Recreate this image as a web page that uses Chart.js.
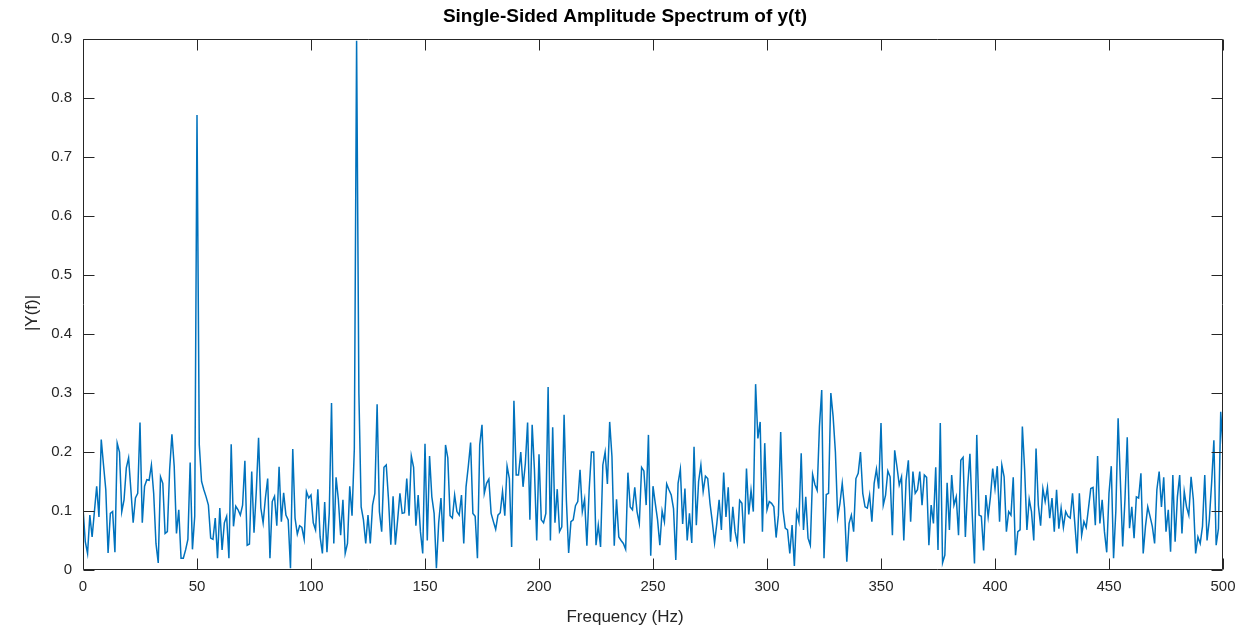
<!DOCTYPE html>
<html><head><meta charset="utf-8">
<script src="https://cdn.jsdelivr.net/npm/chart.js@4/dist/chart.umd.min.js"></script>
<style>html,body{margin:0;padding:0;background:#fff;overflow:hidden}#wrap{width:1250px;height:626px}</style>
</head><body><div id="wrap"><canvas id="c" width="1250" height="626"></canvas></div>
<script>
const chartTitle = 'Single-Sided Amplitude Spectrum of y(t)';
const xAxisLabel = 'Frequency (Hz)';
const yAxisLabel = '|Y(f)|';
const xTicks = [0,50,100,150,200,250,300,350,400,450,500];
const xTickLabels = ['0','50','100','150','200','250','300','350','400','450','500'];
const yTicks = [0,0.1,0.2,0.3,0.4,0.5,0.6,0.7,0.8,0.9];
const yTickLabels = ['0','0.1','0.2','0.3','0.4','0.5','0.6','0.7','0.8','0.9'];
// |Y(f)| at f = 0,1,2,...,500 Hz
const amplitude = [
0.105,0.048,0.028,0.093,0.056,0.099,0.142,0.09,0.221,0.178,
0.136,0.029,0.096,0.099,0.03,0.215,0.2,0.099,0.119,0.173,
0.19,0.136,0.08,0.122,0.13,0.25,0.08,0.142,0.153,0.152,
0.178,0.13,0.045,0.012,0.158,0.147,0.062,0.065,0.17,0.23,
0.176,0.062,0.102,0.02,0.02,0.034,0.052,0.182,0.035,0.091,
0.771,0.212,0.15,0.136,0.124,0.11,0.054,0.052,0.088,0.02,
0.105,0.034,0.08,0.091,0.02,0.213,0.074,0.108,0.102,0.093,
0.11,0.185,0.042,0.044,0.167,0.063,0.133,0.224,0.105,0.08,
0.122,0.155,0.02,0.116,0.125,0.075,0.175,0.082,0.131,0.093,
0.085,0.003,0.205,0.088,0.061,0.075,0.072,0.052,0.133,0.122,
0.127,0.08,0.068,0.137,0.056,0.028,0.115,0.03,0.096,0.283,
0.045,0.157,0.119,0.059,0.119,0.028,0.045,0.142,0.092,0.205,
0.897,0.3,0.107,0.085,0.045,0.093,0.045,0.11,0.13,0.281,
0.099,0.065,0.174,0.178,0.119,0.043,0.125,0.043,0.085,0.13,
0.096,0.097,0.155,0.092,0.193,0.174,0.075,0.127,0.065,0.028,
0.214,0.05,0.193,0.124,0.096,0.003,0.08,0.122,0.048,0.212,
0.19,0.092,0.088,0.127,0.099,0.093,0.127,0.045,0.141,0.176,
0.216,0.096,0.091,0.02,0.212,0.246,0.13,0.147,0.154,0.096,
0.082,0.069,0.093,0.097,0.133,0.092,0.176,0.155,0.039,0.287,
0.161,0.161,0.2,0.141,0.18,0.25,0.085,0.246,0.17,0.05,
0.196,0.085,0.08,0.096,0.31,0.05,0.242,0.08,0.137,0.065,
0.073,0.263,0.119,0.029,0.082,0.085,0.109,0.116,0.17,0.099,
0.12,0.041,0.136,0.2,0.2,0.042,0.076,0.039,0.178,0.2,
0.146,0.251,0.192,0.041,0.12,0.056,0.05,0.045,0.035,0.165,
0.107,0.102,0.14,0.099,0.079,0.174,0.168,0.11,0.229,0.024,
0.142,0.113,0.085,0.042,0.1,0.082,0.146,0.136,0.127,0.104,
0.017,0.147,0.171,0.078,0.138,0.05,0.096,0.046,0.209,0.076,
0.15,0.178,0.133,0.159,0.155,0.113,0.082,0.046,0.079,0.119,
0.068,0.165,0.09,0.14,0.048,0.107,0.065,0.045,0.118,0.113,
0.045,0.172,0.094,0.135,0.099,0.315,0.223,0.251,0.065,0.215,
0.102,0.116,0.113,0.107,0.055,0.093,0.234,0.102,0.071,0.068,
0.028,0.076,0.007,0.098,0.082,0.198,0.068,0.124,0.054,0.042,
0.162,0.145,0.135,0.243,0.305,0.02,0.128,0.13,0.3,0.26,
0.2,0.09,0.113,0.147,0.105,0.014,0.079,0.093,0.065,0.155,
0.164,0.2,0.13,0.107,0.105,0.127,0.082,0.147,0.171,0.138,
0.249,0.11,0.127,0.168,0.158,0.059,0.203,0.175,0.144,0.158,
0.05,0.152,0.186,0.082,0.167,0.13,0.136,0.167,0.11,0.161,
0.157,0.042,0.11,0.079,0.174,0.034,0.249,0.012,0.025,0.148,
0.068,0.161,0.11,0.124,0.059,0.186,0.191,0.056,0.141,0.197,
0.096,0.011,0.229,0.093,0.091,0.033,0.127,0.09,0.124,0.172,
0.138,0.176,0.082,0.178,0.158,0.065,0.099,0.093,0.157,0.025,
0.065,0.068,0.243,0.17,0.068,0.12,0.099,0.05,0.206,0.11,
0.075,0.138,0.116,0.14,0.088,0.122,0.065,0.136,0.07,0.105,
0.072,0.099,0.091,0.088,0.13,0.079,0.028,0.13,0.059,0.082,
0.072,0.105,0.138,0.14,0.076,0.193,0.079,0.119,0.065,0.03,
0.13,0.176,0.02,0.1,0.257,0.15,0.04,0.12,0.225,0.071,
0.107,0.054,0.124,0.122,0.164,0.028,0.074,0.107,0.091,0.074,
0.045,0.136,0.167,0.107,0.157,0.065,0.102,0.031,0.161,0.048,
0.124,0.161,0.062,0.133,0.107,0.093,0.158,0.119,0.028,0.056,
0.045,0.074,0.161,0.05,0.085,0.147,0.22,0.042,0.07,0.268,
0.205];
// FFT bins: 0 Hz to 500 Hz, 1 Hz apart
const frequencyHz = amplitude.map((_, i) => i);

const AXIS_COLOR = '#262626';
const TICK_LEN = 11;
const FONT = 'Liberation Sans, Arial, Helvetica, sans-serif';

const boxTicks = {
  id: 'boxTicks',
  afterDatasetsDraw(chart) {
    const {ctx, chartArea: a, scales} = chart;
    const L = Math.round(a.left) + 0.5, R = Math.round(a.right) - 0.5;
    const T = Math.round(a.top) + 0.5, B = Math.round(a.bottom) - 0.5;
    ctx.save();
    ctx.strokeStyle = AXIS_COLOR;
    ctx.lineWidth = 1;
    ctx.beginPath();
    ctx.rect(L, T, R - L, B - T);
    xTicks.forEach(v => {
      const px = Math.round(scales.x.getPixelForValue(v)) + 0.5;
      ctx.moveTo(px, B); ctx.lineTo(px, B - TICK_LEN);
      ctx.moveTo(px, T); ctx.lineTo(px, T + TICK_LEN);
    });
    yTicks.forEach(v => {
      const py = Math.round(scales.y.getPixelForValue(v)) + 0.5;
      ctx.moveTo(L, py); ctx.lineTo(L + TICK_LEN, py);
      ctx.moveTo(R, py); ctx.lineTo(R - TICK_LEN, py);
    });
    ctx.stroke();
    // y-axis label, centred on the figure height (as in the reference)
    ctx.fillStyle = AXIS_COLOR;
    ctx.font = '17px ' + FONT;
    ctx.textAlign = 'center';
    ctx.textBaseline = 'middle';
    ctx.translate(32, chart.height / 2);
    ctx.rotate(-Math.PI / 2);
    ctx.fillText(yAxisLabel, 0, 0);
    ctx.restore();
  }
};

new Chart(document.getElementById('c'), {
  type: 'line',
  data: {
    datasets: [{
      data: frequencyHz.map((f, i) => ({x: f, y: amplitude[i]})),
      xAxisID: 'x',
      yAxisID: 'y',
      borderColor: '#0072BD',
      borderWidth: 1.5,
      pointRadius: 0,
      tension: 0,
      fill: false
    }]
  },
  options: {
    responsive: false,
    animation: false,
    devicePixelRatio: 1,
    layout: {padding: 0},
    plugins: {
      legend: {display: false},
      tooltip: {enabled: false},
      title: {
        display: true, text: chartTitle, color: '#000',
        font: {family: FONT, size: 19, weight: 'bold', lineHeight: 1.2},
        padding: {top: 5.6, bottom: 10.6}
      },
      subtitle: {
        display: true, position: 'bottom', text: xAxisLabel, color: AXIS_COLOR,
        font: {family: FONT, size: 17, lineHeight: 1.0},
        padding: {top: 0, bottom: 0}
      }
    },
    scales: {
      x: {
        type: 'linear', min: 0, max: 500, position: 'bottom',
        afterFit(s) { s.height = 39; },
        afterBuildTicks(s) { s.ticks = xTicks.map(v => ({value: v})); },
        grid: {display: false, drawTicks: false},
        border: {display: false},
        ticks: {
          padding: 8, color: AXIS_COLOR, maxRotation: 0, autoSkip: false,
          font: {family: FONT, size: 15},
          callback: (v, i) => xTickLabels[i]
        }
      },
      y: {
        type: 'linear', min: 0, max: 0.9, position: 'left',
        afterFit(s) { s.width = 83; },
        afterBuildTicks(s) { s.ticks = yTicks.map(v => ({value: v})); },
        grid: {display: false, drawTicks: false},
        border: {display: false},
        ticks: {
          padding: 11, color: AXIS_COLOR,
          font: {family: FONT, size: 15},
          callback: (v, i) => yTickLabels[i]
        }
      },
      yRight: {
        type: 'linear', min: 0, max: 0.9, position: 'right',
        afterFit(s) { s.width = 27; },
        grid: {display: false, drawTicks: false},
        border: {display: false},
        ticks: {display: false}
      }
    }
  },
  plugins: [boxTicks]
});
</script>
</body></html>
